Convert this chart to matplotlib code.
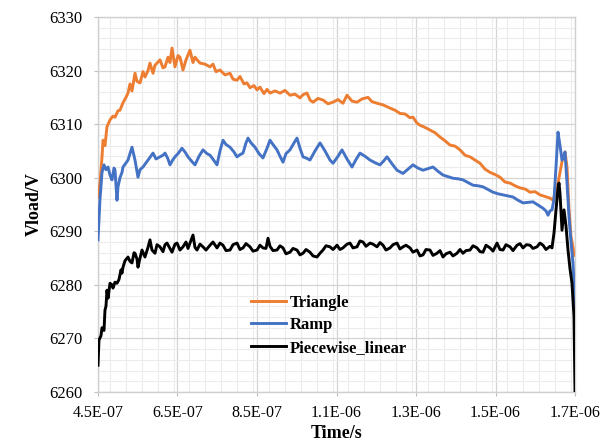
import numpy as np
import matplotlib.pyplot as plt
from matplotlib.ticker import MultipleLocator, FixedLocator, FixedFormatter

# time in ns, voltage in V
tri_t = [450, 455.0, 460.1, 462.6, 467.6, 472.6, 480.2, 487.7, 492.8, 500.3, 505.3,
         512.9, 520.4, 525.5, 530.5, 535.5, 540.6, 543.1, 548.1, 555.7, 563.2, 568.2,
         575.8, 580.8, 588.4, 593.4, 598.4, 606.0, 613.5, 618.6, 626.1, 631.1, 636.2,
         643.7, 651.3, 656.3, 663.8, 671.4, 681.4, 689.0, 694.0, 701.6, 706.6, 719.2,
         731.8, 739.3, 746.9, 756.9, 769.5, 782.1, 789.6, 799.7, 807.2, 817.3, 824.8,
         832.4, 842.4, 850.0, 857.5, 867.6, 875.2, 882.7, 895.3, 907.9, 920.4, 933.0,
         945.6, 958.2, 965.7, 975.8, 983.3, 990.9, 1003.5, 1016.0, 1028.6, 1041.2,
         1053.8, 1066.3, 1076.4, 1089.0, 1101.6, 1114.1, 1129.2, 1139.3, 1151.9,
         1167.0, 1184.6, 1197.2, 1209.7, 1222.3, 1234.9, 1242.4, 1252.5, 1260.1,
         1272.6, 1285.2, 1297.8, 1310.4, 1322.9, 1335.5, 1348.1, 1360.7, 1373.3,
         1385.8, 1398.4, 1411.0, 1423.6, 1436.2, 1448.7, 1461.3, 1473.9, 1486.5,
         1499.0, 1511.6, 1524.2, 1536.8, 1549.4, 1561.9, 1574.5, 1587.1, 1594.6,
         1602.2, 1607.2, 1614.8, 1619.8, 1624.8, 1629.9, 1634.9, 1639.9, 1645.0, 1647.5]
tri_v = [6296.4, 6299, 6303.9, 6307, 6306, 6309.5, 6310.8, 6311.5, 6311.3, 6312.5, 6312.6,
         6314, 6315, 6315.8, 6317.5, 6316.2, 6318.5, 6319.5, 6318, 6317.7, 6319.8, 6318.8,
         6320, 6321.4, 6319.5, 6321, 6321.4, 6322, 6320.5, 6320.7, 6322.5, 6321.5, 6324.2,
         6320.7, 6322.8, 6322.5, 6320.1, 6322, 6323.8, 6321.5, 6322.5, 6321.8, 6321.4, 6321.2,
         6320.7, 6321.2, 6319.8, 6320.1, 6319.2, 6319.5, 6318.4, 6318.2, 6318.9, 6317.5, 6317.7,
         6316.8, 6317.2, 6316.4, 6316.9, 6315.7, 6316.5, 6315.8, 6316.2, 6315.8, 6316.3, 6315.4,
         6315.6, 6314.9, 6315.5, 6315.8, 6314.5, 6314.1, 6314.8, 6314.5, 6313.8, 6314.1,
         6314.6, 6313.9, 6315.4, 6314.3, 6314.1, 6314.7, 6315, 6314.2, 6313.9,
         6313.6, 6313, 6312.6, 6312, 6311.9, 6311.2, 6311.3, 6310.2, 6309.8,
         6309.4, 6308.9, 6308.4, 6307.6, 6306.9, 6306.1, 6305.9, 6305.2, 6304.2,
         6303.9, 6303.3, 6302.7, 6301.6, 6301, 6300.6, 6300.1, 6299.2, 6299,
         6298.5, 6298.1, 6297.9, 6297.3, 6297.4, 6296.8, 6296.5, 6296.2, 6295.8,
         6297.5, 6299, 6302, 6304, 6304.8, 6302, 6294, 6289, 6287, 6285.5]

ramp_t = [450, 452.5, 455.0, 460.1, 465.1, 470.1, 475.2, 480.2, 485.2, 490.3, 492.8,
          497.8, 500.3, 505.3, 510.4, 512.9, 517.9, 525.5, 530.5, 535.5, 543.1, 550.6,
          555.7, 563.2, 570.8, 575.8, 580.8, 588.4, 595.9, 606.0, 613.5, 618.6, 626.1,
          631.1, 638.7, 643.7, 651.3, 661.3, 668.9, 676.4, 686.5, 694.0, 704.1, 714.1,
          724.2, 731.8, 741.8, 749.4, 756.9, 764.5, 772.0, 782.1, 792.1, 799.7, 807.2,
          814.8, 822.3, 827.4, 834.9, 845.0, 855.0, 865.1, 875.2, 882.7, 890.2, 900.3,
          907.9, 915.4, 923.0, 933.0, 943.1, 950.6, 958.2, 965.7, 975.8, 983.3, 995.9,
          1008.5, 1021.1, 1033.6, 1041.2, 1053.8, 1063.8, 1076.4, 1089.0, 1099.1, 1109.1,
          1121.7, 1134.3, 1146.8, 1159.4, 1169.5, 1177.0, 1189.6, 1202.2, 1217.3, 1229.9,
          1242.4, 1255.0, 1267.6, 1280.2, 1292.8, 1305.3, 1317.9, 1330.5, 1343.1, 1355.7,
          1368.2, 1380.8, 1393.4, 1406.0, 1418.5, 1431.1, 1443.7, 1456.3, 1468.9, 1481.4,
          1494.0, 1506.6, 1519.2, 1532.3, 1544.3, 1556.9, 1569.5, 1577.0, 1582.1, 1587.1,
          1592.1, 1597.2, 1602.2, 1607.2, 1612.3, 1617.3, 1622.3, 1624.8, 1629.9, 1634.9,
          1639.9, 1645.0, 1650.0]
ramp_v = [6288.4, 6292, 6296, 6301, 6302.4, 6301.5, 6302, 6300.5, 6299.6, 6301.8, 6301.4,
          6295.8, 6298.3, 6300, 6301, 6302, 6302.5, 6303.3, 6304.5, 6305.7, 6303.3, 6300.1,
          6301.5, 6302, 6302.8, 6303.3, 6303.8, 6304.6, 6303.5, 6303.9, 6304.2, 6304.6, 6303.5,
          6302.4, 6303.4, 6303.9, 6304.5, 6305.5, 6304.8, 6303.9, 6303, 6302.4, 6304, 6305.2,
          6304.5, 6304.2, 6303.2, 6302.4, 6305, 6307, 6306.2, 6305.7, 6304.8, 6303.9, 6304.3,
          6304.6, 6306.5, 6307.4, 6306.5, 6305.7, 6304.5, 6303.7, 6305.5, 6307, 6306.2, 6305.2,
          6304, 6302.9, 6304.5, 6305.2, 6306.5, 6307.4, 6305.5, 6303.9, 6303.6, 6303.3, 6305,
          6306.5, 6305, 6303.3, 6302.7, 6304, 6305.2, 6303.5, 6302, 6303.4, 6304.6,
          6304, 6303.3, 6302.8, 6302.4, 6303.2, 6303.9, 6302.6, 6301.4, 6300.8, 6301.6,
          6302.4, 6301.8, 6301.4, 6301.7, 6302, 6301.2, 6300.5, 6300.2, 6299.9, 6299.8,
          6299.6, 6299.1, 6298.6, 6298.5, 6298.3, 6297.8, 6297.3, 6297, 6296.8, 6296.6,
          6296.4, 6295.8, 6295.3, 6295.4, 6295.5, 6294.9, 6294.3, 6293.8, 6293, 6293.8,
          6294, 6296, 6302, 6308.5, 6306, 6303.3, 6304, 6304.8, 6299, 6292.7,
          6288, 6284, 6276]

pwl_t = [450, 452.5, 457.5, 460.1, 465.1, 467.6, 470.1, 472.6, 475.2, 480.2, 485.2,
         487.7, 492.8, 497.8, 502.8, 507.9, 510.4, 512.9, 517.9, 525.5, 530.5, 535.5,
         540.6, 543.1, 548.1, 550.6, 555.7, 560.7, 568.2, 575.8, 580.8, 585.8, 593.4,
         598.4, 606.0, 613.5, 618.6, 623.6, 631.1, 636.2, 643.7, 648.8, 656.3, 663.8,
         671.4, 676.4, 681.4, 689.0, 694.0, 699.1, 706.6, 714.1, 721.7, 731.8, 739.3,
         749.4, 756.9, 764.5, 772.0, 782.1, 789.6, 799.7, 807.2, 814.8, 822.3, 832.4,
         839.9, 850.0, 857.5, 865.1, 872.6, 877.7, 882.7, 890.2, 900.3, 907.9, 915.4,
         923.0, 933.0, 940.6, 950.6, 958.2, 965.7, 973.3, 983.3, 990.9, 1000.9, 1008.5,
         1016.0, 1023.6, 1033.6, 1041.2, 1051.3, 1058.8, 1066.3, 1076.4, 1083.9, 1091.5,
         1101.6, 1109.1, 1116.7, 1124.2, 1134.3, 1141.8, 1151.9, 1159.4, 1167.0, 1174.5,
         1184.6, 1192.1, 1202.2, 1209.7, 1217.3, 1224.8, 1234.9, 1242.4, 1252.5, 1260.1,
         1267.6, 1275.1, 1285.2, 1292.8, 1302.8, 1310.4, 1317.9, 1325.5, 1335.5, 1343.1,
         1353.1, 1360.7, 1368.2, 1375.8, 1385.8, 1393.4, 1403.5, 1411.0, 1418.5, 1426.1,
         1436.2, 1443.7, 1453.8, 1461.3, 1468.9, 1476.4, 1486.5, 1494.0, 1504.1, 1511.6,
         1519.2, 1527.7, 1536.8, 1544.3, 1554.4, 1561.9, 1569.5, 1577.0, 1587.1, 1592.1,
         1597.2, 1602.2, 1607.2, 1609.7, 1612.3, 1617.3, 1622.3, 1627.3, 1632.4, 1637.4,
         1642.4, 1647.5, 1650.0]
pwl_v = [6265, 6269.7, 6270.5, 6272, 6271.5, 6275.3, 6276, 6279, 6277.5, 6280.3, 6280,
         6279.4, 6280.5, 6280.3, 6281, 6282.8, 6282.2, 6283.3, 6284.5, 6285.2, 6284.4, 6284.1,
         6286, 6285.9, 6284.8, 6283.3, 6285, 6286.5, 6285.2, 6287, 6288.4, 6286.5, 6285.9,
         6287.5, 6287.1, 6286.2, 6287.5, 6287.8, 6286.8, 6286.1, 6287.6, 6287.8, 6286.5, 6287.1,
         6288, 6286.8, 6287.8, 6289.3, 6287, 6286.5, 6287.6, 6287.1, 6286.5, 6287.4, 6288,
         6286.9, 6287.8, 6287.4, 6286.4, 6286.5, 6287.5, 6287.8, 6286.6, 6286.9, 6287.7, 6287.1,
         6286.3, 6286.5, 6287.4, 6286.9, 6286.8, 6288.7, 6287.2, 6286.4, 6286.5, 6287.3, 6286.9,
         6285.8, 6286.1, 6286.8, 6286.5, 6285.6, 6285.9, 6286.6, 6286.1, 6285.4, 6285.2, 6285.9,
         6286.5, 6287.3, 6287.1, 6286.6, 6287.4, 6286.6, 6286.9, 6287.6, 6287.8, 6286.9,
         6287.1, 6288.2, 6288, 6287.2, 6287.8, 6287.6, 6287.1, 6287.9, 6287.4, 6286.5,
         6286.9, 6287.5, 6287.8, 6286.7, 6287.1, 6287.4, 6286.9, 6286.1, 6286.5, 6285.4,
         6285.6, 6286.6, 6286.5, 6285.5, 6285.9, 6286.4, 6285.2, 6285.8, 6286.1, 6285.4,
         6285.9, 6286.6, 6285.9, 6286.4, 6286.5, 6287.3, 6286.9, 6286.2, 6286.1, 6287.4,
         6286.9, 6286.3, 6287.8, 6286.6, 6286.5, 6287.5, 6287.1, 6286.4, 6287.4, 6287.7,
         6286.9, 6287.5, 6287.4, 6286.8, 6287.1, 6287.8, 6287.4, 6286.6, 6287.2, 6286.9,
         6289.7, 6294, 6298, 6299, 6297, 6290.2, 6294, 6291, 6286.5, 6283,
         6280.3, 6274, 6260]

x_ticks_ns = [450, 650, 850, 1050, 1250, 1450, 1650]
x_tick_labels = ["4.5E-07", "6.5E-07", "8.5E-07", "1.1E-06", "1.3E-06", "1.5E-06", "1.7E-06"]

plt.rcParams['font.family'] = 'Liberation Serif'

fig = plt.figure(figsize=(6.14, 4.43), dpi=100)
ax = fig.add_axes([0.1596, 0.1151, 0.7769, 0.8465])

ax.plot(np.array(tri_t) * 1e-9, tri_v, color='#ED7D31', lw=2.1, label='Triangle', zorder=3)
ax.plot(np.array(ramp_t) * 1e-9, ramp_v, color='#4472C4', lw=2.1, label='Ramp', zorder=4)
ax.plot(np.array(pwl_t) * 1e-9, pwl_v, color='black', lw=2.1, label='Piecewise_linear', zorder=5)

ax.set_xlim(450e-9, 1650e-9)
ax.set_ylim(6260, 6330)
ax.xaxis.set_major_locator(FixedLocator(np.array(x_ticks_ns) * 1e-9))
ax.xaxis.set_major_formatter(FixedFormatter(x_tick_labels))
ax.xaxis.set_minor_locator(MultipleLocator(40e-9))
ax.yaxis.set_major_locator(MultipleLocator(10))
ax.yaxis.set_minor_locator(MultipleLocator(2))

ax.grid(which='major', color='#d4d4d4', lw=0.9)
ax.grid(which='minor', color='#ececec', lw=0.8)
ax.set_axisbelow(True)
for s in ax.spines.values():
    s.set_color('#d0d0d0')
    s.set_linewidth(1.0)
ax.tick_params(which='major', length=3, color='#bfbfbf')
ax.tick_params(axis='y', labelsize=12, pad=8.5)
ax.tick_params(axis='x', labelsize=11.5, pad=6)
ax.tick_params(which='minor', length=0)

ax.set_xlabel('Time/s', fontsize=13, fontweight='bold', labelpad=3)
ax.set_ylabel('Vload/V', fontsize=13, fontweight='bold', labelpad=4)

ax.legend(loc='upper left', bbox_to_anchor=(0.29, 0.30), frameon=False,
          prop={'weight': 'bold', 'size': 12}, handlelength=2.1,
          handletextpad=0.2, labelspacing=0.4)

fig.savefig('out.png', dpi=100)
